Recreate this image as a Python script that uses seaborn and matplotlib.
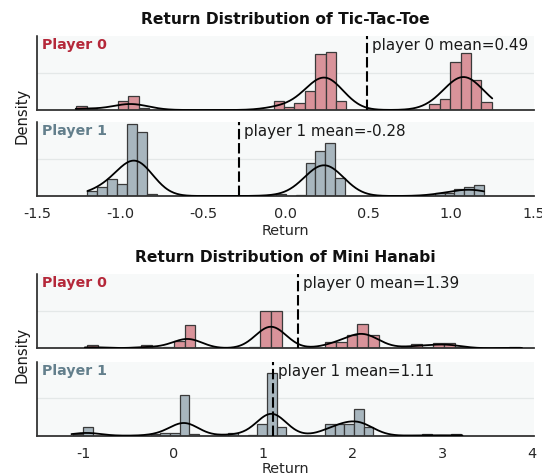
import numpy as np
import pandas as pd
import matplotlib
matplotlib.use("Agg")
import matplotlib.pyplot as plt
import matplotlib.transforms as mtransforms
import seaborn as sns

# ---------------- data ----------------
players = ["Player 0", "Player 1"]

# Tic-Tac-Toe: 40-bin histograms over each player's return range
ttt_p0_range = (-1.265, 1.245)
ttt_p0_heights = [4.5, 0.7, 0, 0, 9.3, 14.3, 2.3,
                  0, 0, 0, 0, 0, 0, 0, 0, 0, 0, 0, 0,
                  8.7, 2.7, 6.7, 19.3, 56.7, 59.0, 9.3,
                  0, 0, 0, 0, 0, 0, 0, 0,
                  6.0, 11.3, 48.3, 58.0, 30.7, 8.0]
ttt_p1_range = (-1.2, 1.2)
ttt_p1_heights = [5.3, 8.7, 16.7, 12.0, 70.3, 62.0, 2.0,
                  0, 0, 0, 0, 0, 0, 0, 0, 0, 0, 0, 0,
                  2.3, 0, 1.3, 31.7, 44.0, 51.7, 17.3,
                  0, 0, 0, 0, 0, 0, 0, 0, 0,
                  2.7, 3.3, 6.7, 8.7, 10.7]
ttt_means = [0.49, -0.28]

# Mini Hanabi
han_p0_range = (-0.96, 3.86)
han_p0_heights = [3.3, 0, 0, 0, 0, 3.3, 0, 1.0, 7.7, 23.3,
                  0, 0, 0, 0, 0,
                  1.0, 36.7, 36.7, 0.5,
                  0, 0, 0,
                  6.0, 6.0, 13.3, 24.0, 13.3,
                  0, 0,
                  1.3, 4.0, 1.0, 5.7, 5.0, 1.7,
                  0, 0, 0, 0,
                  1.3]
han_p1_range = (-1.116, 3.203)
han_p1_heights = [1.7, 8.7,
                  0, 0, 0, 0, 0, 0,
                  1.3, 3.0, 3.0, 41.7, 1.3,
                  0, 0, 0,
                  3.0, 0, 1.0, 11.7, 63.3, 9.0,
                  0, 0, 0, 0,
                  12.3, 12.3, 12.3, 27.3, 9.0,
                  0, 0, 0, 0, 0,
                  1.3, 0, 0, 1.3]
han_means = [1.39, 1.11]

games = [
    dict(title="Return Distribution of Tic-Tac-Toe",
         ranges=[ttt_p0_range, ttt_p1_range],
         heights=[ttt_p0_heights, ttt_p1_heights],
         means=ttt_means, bw=0.10,
         xlim=(-1.5, 1.5), xticks=[-1.5, -1.0, -0.5, 0.0, 0.5, 1.0, 1.5],
         xticklabels=["-1.5", "-1.0", "-0.5", "0.0", "0.5", "1.0", "1.5"],
         ylim=3.36, grid=1.67, labelpad=1.8),
    dict(title="Return Distribution of Mini Hanabi",
         ranges=[han_p0_range, han_p1_range],
         heights=[han_p0_heights, han_p1_heights],
         means=han_means, bw=0.155,
         xlim=(-1.516, 4.02), xticks=[-1, 0, 1, 2, 3, 4],
         xticklabels=["-1", "0", "1", "2", "3", "4"],
         ylim=3.10, grid=1.56, labelpad=0.6),
]

# ---------------- style ----------------
sns.set_style("white")
plt.rcParams["font.family"] = ["DejaVu Sans"]
bar_colors = ["#d9939a", "#a8b6be"]
label_colors = ["#b5283a", "#637f8c"]
face = "#f7f9f9"

W, H = 542, 475
fig = plt.figure(figsize=(W / 100, H / 100), dpi=100)

ax_left, ax_right = 37.4, 533.9
panel_tops = [[36, 122], [274.3, 361.7]]
panel_h = 74
title_y = [20, 257.5]
dens_y = [116, 355]

for g, game in enumerate(games):
    for p in range(2):
        top = panel_tops[g][p]
        ax = fig.add_axes([ax_left / W, 1 - (top + panel_h) / H,
                           (ax_right - ax_left) / W, panel_h / H])
        ax.set_facecolor(face)
        lo, hi = game["ranges"][p]
        h = np.asarray(game["heights"][p], dtype=float)
        nb = len(h)
        edges = np.linspace(lo, hi, nb + 1)
        centers = (edges[:-1] + edges[1:]) / 2
        df = pd.DataFrame({"ret": centers, "w": h})
        sns.histplot(data=df, x="ret", weights="w", bins=nb, binrange=(lo, hi),
                     stat="density", color=bar_colors[p], alpha=1.0,
                     edgecolor="#3a3a3a", linewidth=0.9, ax=ax, zorder=2)
        std_w = np.sqrt(np.cov(centers, aweights=h))
        bw = game["bw"]
        sns.kdeplot(data=df, x="ret", weights="w", bw_method=bw / std_w,
                    cut=(edges[1] - edges[0]) / 2 / bw, gridsize=400,
                    color="black", linewidth=1.3, ax=ax, zorder=3)
        m = game["means"][p]
        ax.axvline(m, color="black", linewidth=1.5, linestyle=(0, (5, 1.8)),
                   zorder=4)
        trans = mtransforms.offset_copy(ax.get_xaxis_transform(), fig=fig,
                                        x=3.5, y=0, units="points")
        ax.text(m, 0.975, f"player {p} mean={m:.2f}", transform=trans,
                ha="left", va="top", fontsize=10.9, color="#1a1a1a", zorder=5)
        ax.text(0.009, 0.975, players[p], transform=ax.transAxes,
                ha="left", va="top", fontsize=10.2, fontweight="bold",
                color=label_colors[p], zorder=5)
        ax.set_xlim(*game["xlim"])
        ax.set_ylim(0, game["ylim"])
        ax.set_yticks([game["grid"]])
        ax.set_yticklabels([])
        ax.tick_params(axis="y", length=0)
        ax.grid(axis="y", color="#e4e8e8", linewidth=0.9, zorder=0)
        ax.set_axisbelow(True)
        ax.set_ylabel("")
        ax.set_xlabel("")
        for s in ["top", "right"]:
            ax.spines[s].set_visible(False)
        ax.spines["left"].set_color("#111111")
        ax.spines["left"].set_linewidth(1.1)
        ax.spines["bottom"].set_color("#333333")
        ax.spines["bottom"].set_linewidth(1.3)
        ax.set_xticks(game["xticks"])
        if p == 0:
            ax.tick_params(axis="x", length=0, labelbottom=False)
        else:
            ax.set_xticklabels(game["xticklabels"], fontsize=10.4)
            ax.tick_params(axis="x", length=3.5, width=1, color="#333333",
                           pad=4.5)
            ax.set_xlabel("Return", fontsize=10.4, labelpad=game["labelpad"])
    fig.text((ax_left + ax_right) / 2 / W, 1 - title_y[g] / H, game["title"],
             ha="center", va="center", fontsize=11.2, fontweight="bold",
             color="#111111")
    fig.text(22 / W, 1 - dens_y[g] / H, "Density", rotation=90,
             ha="center", va="center", fontsize=10.6, color="#1a1a1a")

fig.savefig("out.png", dpi=100)
